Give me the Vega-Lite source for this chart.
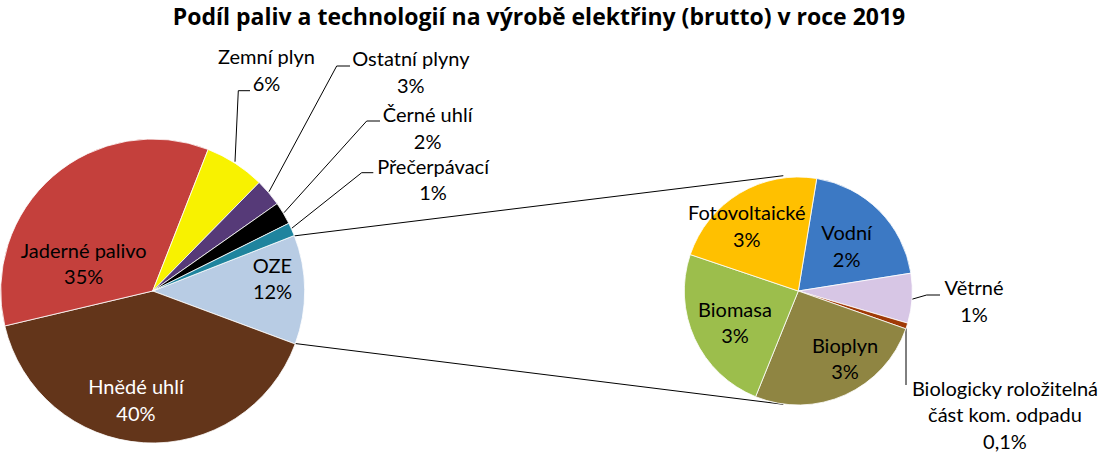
{
  "$schema": "https://vega.github.io/schema/vega-lite/v6.json",
  "width": 1100,
  "height": 452,
  "autosize": {"type": "none"},
  "padding": 0,
  "background": "white",
  "title": {"text": "Podíl paliv a technologií na výrobě elektřiny (brutto) v roce 2019", "font": "Open Sans", "fontSize": 23, "fontWeight": "bold", "color": "black", "anchor": "middle", "frame": "group", "offset": -30, "dx": -11},
  "config": {"view": {"stroke": null}, "font": "Lato"},
  "datasets": {
    "hlavni": [
      {"kategorie": "OZE", "podil": 11.6, "poradi": 1, "popisek": "OZE\n12%", "pie": "hlavni"},
      {"kategorie": "Hnědé uhlí", "podil": 40.6, "poradi": 2, "popisek": "Hnědé uhlí\n40%", "pie": "hlavni"},
      {"kategorie": "Jaderné palivo", "podil": 34.6, "poradi": 3, "popisek": "Jaderné palivo\n35%", "pie": "hlavni"},
      {"kategorie": "Zemní plyn", "podil": 6.4, "poradi": 4, "popisek": "Zemní plyn\n6%", "pie": "hlavni"},
      {"kategorie": "Ostatní plyny", "podil": 2.9, "poradi": 5, "popisek": "Ostatní plyny\n3%", "pie": "hlavni"},
      {"kategorie": "Černé uhlí", "podil": 2.4, "poradi": 6, "popisek": "Černé uhlí\n2%", "pie": "hlavni"},
      {"kategorie": "Přečerpávací", "podil": 1.4, "poradi": 7, "popisek": "Přečerpávací\n1%", "pie": "hlavni"}
    ],
    "oze": [
      {"kategorie": "Vodní", "podil": 2.4, "poradi": 1, "popisek": "Vodní\n2%", "pie": "oze"},
      {"kategorie": "Větrné", "podil": 0.85, "poradi": 2, "popisek": "Větrné\n1%", "pie": "oze"},
      {"kategorie": "Biologicky roložitelná část kom. odpadu", "podil": 0.1, "poradi": 3, "popisek": "Biologicky roložitelná\nčást kom. odpadu\n0,1%", "pie": "oze"},
      {"kategorie": "Bioplyn", "podil": 3.1, "poradi": 4, "popisek": "Bioplyn\n3%", "pie": "oze"},
      {"kategorie": "Biomasa", "podil": 2.9, "poradi": 5, "popisek": "Biomasa\n3%", "pie": "oze"},
      {"kategorie": "Fotovoltaické", "podil": 2.7, "poradi": 6, "popisek": "Fotovoltaické\n3%", "pie": "oze"}
    ],
    "spojnice": [
      {"x": 293.3, "y": 236, "x2": 783.3, "y2": 175.7},
      {"x": 293.3, "y": 343.3, "x2": 783.3, "y2": 404.3},
      {"x": 235, "y": 161.7, "x2": 238.3, "y2": 90.7},
      {"x": 238.3, "y": 90.7, "x2": 250, "y2": 90.7},
      {"x": 269, "y": 191.7, "x2": 336.7, "y2": 66},
      {"x": 336.7, "y": 66, "x2": 350, "y2": 66},
      {"x": 284, "y": 212.7, "x2": 366.7, "y2": 121},
      {"x": 366.7, "y": 121, "x2": 380, "y2": 121},
      {"x": 291.7, "y": 228.3, "x2": 361.7, "y2": 172.7},
      {"x": 361.7, "y": 172.7, "x2": 373.3, "y2": 172.7},
      {"x": 911.7, "y": 299.3, "x2": 926.7, "y2": 295},
      {"x": 926.7, "y": 295, "x2": 940, "y2": 295},
      {"x": 906, "y": 328.3, "x2": 906, "y2": 385}
    ]
  },
  "layer": [
    {
      "data": {"name": "spojnice"},
      "mark": {"type": "rule", "color": "black", "strokeWidth": 1},
      "encoding": {
        "x": {"field": "x", "type": "quantitative", "scale": {"domain": [0, 1100], "nice": false, "zero": false}, "axis": null},
        "y": {"field": "y", "type": "quantitative", "scale": {"domain": [0, 452], "nice": false, "zero": false, "reverse": true}, "axis": null},
        "x2": {"field": "x2"},
        "y2": {"field": "y2"}
      }
    },
    {
      "data": {"name": "hlavni"},
      "encoding": {
        "theta": {"field": "podil", "type": "quantitative", "stack": true, "scale": {"range": [1.1973, 7.4805]}},
        "order": {"field": "poradi", "type": "quantitative"},
        "x": {"field": "pie", "type": "nominal", "scale": {"domain": ["hlavni"], "range": [152.7, 152.7]}, "axis": null},
        "y": {"field": "pie", "type": "nominal", "scale": {"domain": ["hlavni"], "range": [291, 291]}, "axis": null}
      },
      "layer": [
        {
          "mark": {"type": "arc", "outerRadius": 152, "stroke": "white", "strokeWidth": 0.8},
          "encoding": {
            "color": {"field": "kategorie", "type": "nominal", "legend": null, "scale": {
              "domain": ["OZE", "Hnědé uhlí", "Jaderné palivo", "Zemní plyn", "Ostatní plyny", "Černé uhlí", "Přečerpávací"],
              "range": ["#B8CCE4", "#63351A", "#C4403C", "#F8F200", "#563A78", "#000000", "#1F849E"]}}
          }
        },
        {
          "transform": [{"filter": "datum.kategorie === 'Jaderné palivo'"}],
          "mark": {"type": "text", "radius": 73.7, "thetaOffset": 2.7866, "dy": -13.25, "lineBreak": "\n", "fontSize": 20, "lineHeight": 26.5, "align": "center", "baseline": "middle", "color": "black"},
          "encoding": {"text": {"field": "popisek"}}
        },
        {
          "transform": [{"filter": "datum.kategorie === 'Hnědé uhlí'"}],
          "mark": {"type": "text", "radius": 112, "thetaOffset": 0.8177, "dy": -13.25, "lineBreak": "\n", "fontSize": 20, "lineHeight": 26.5, "align": "center", "baseline": "middle", "color": "white"},
          "encoding": {"text": {"field": "popisek"}}
        },
        {
          "transform": [{"filter": "datum.kategorie === 'OZE'"}],
          "mark": {"type": "text", "radius": 120.3, "thetaOffset": -0.082, "dy": -13.25, "lineBreak": "\n", "fontSize": 20, "lineHeight": 26.5, "align": "center", "baseline": "middle", "color": "black"},
          "encoding": {"text": {"field": "popisek"}}
        },
        {
          "transform": [{"filter": "datum.kategorie === 'Zemní plyn'"}],
          "mark": {"type": "text", "radius": 247.2, "thetaOffset": -0.9203, "dy": -13.25, "lineBreak": "\n", "fontSize": 20, "lineHeight": 26.5, "align": "center", "baseline": "middle", "color": "black"},
          "encoding": {"text": {"field": "popisek"}}
        },
        {
          "transform": [{"filter": "datum.kategorie === 'Ostatní plyny'"}],
          "mark": {"type": "text", "radius": 337.5, "thetaOffset": -0.4177, "dy": -13.25, "lineBreak": "\n", "fontSize": 20, "lineHeight": 26.5, "align": "center", "baseline": "middle", "color": "black"},
          "encoding": {"text": {"field": "popisek"}}
        },
        {
          "transform": [{"filter": "datum.kategorie === 'Černé uhlí'"}],
          "mark": {"type": "text", "radius": 318.7, "thetaOffset": -0.2325, "dy": -13.25, "lineBreak": "\n", "fontSize": 20, "lineHeight": 26.5, "align": "center", "baseline": "middle", "color": "black"},
          "encoding": {"text": {"field": "popisek"}}
        },
        {
          "transform": [{"filter": "datum.kategorie === 'Přečerpávací'"}],
          "mark": {"type": "text", "radius": 301.1, "thetaOffset": -0.044, "dy": -13.25, "lineBreak": "\n", "fontSize": 20, "lineHeight": 26.5, "align": "center", "baseline": "middle", "color": "black"},
          "encoding": {"text": {"field": "popisek"}}
        }
      ]
    },
    {
      "data": {"name": "oze"},
      "encoding": {
        "theta": {"field": "podil", "type": "quantitative", "stack": true, "scale": {"range": [0.1623, 6.4455]}},
        "order": {"field": "poradi", "type": "quantitative"},
        "x": {"field": "pie", "type": "nominal", "scale": {"domain": ["oze"], "range": [798.3, 798.3]}, "axis": null},
        "y": {"field": "pie", "type": "nominal", "scale": {"domain": ["oze"], "range": [291, 291]}, "axis": null}
      },
      "layer": [
        {
          "mark": {"type": "arc", "outerRadius": 114, "stroke": "white", "strokeWidth": 0.8},
          "encoding": {
            "color": {"field": "kategorie", "type": "nominal", "legend": null, "scale": {
              "domain": ["Vodní", "Větrné", "Biologicky roložitelná část kom. odpadu", "Bioplyn", "Biomasa", "Fotovoltaické"],
              "range": ["#3C79C4", "#D7C6E5", "#A03A07", "#8F8542", "#9CBE4C", "#FFC000"]}}
          }
        },
        {
          "transform": [{"filter": "datum.kategorie === 'Vodní'"}],
          "mark": {"type": "text", "radius": 65, "thetaOffset": 0.0497, "dy": -13.25, "lineBreak": "\n", "fontSize": 20, "lineHeight": 26.5, "align": "center", "baseline": "middle", "color": "black"},
          "encoding": {"text": {"field": "popisek"}}
        },
        {
          "transform": [{"filter": "datum.kategorie === 'Větrné'"}],
          "mark": {"type": "text", "radius": 176.1, "thetaOffset": 1.2514, "dy": -13.25, "lineBreak": "\n", "fontSize": 20, "lineHeight": 26.5, "align": "center", "baseline": "middle", "color": "black"},
          "encoding": {"text": {"field": "popisek"}}
        },
        {
          "transform": [{"filter": "datum.kategorie === 'Biologicky roložitelná část kom. odpadu'"}],
          "mark": {"type": "text", "radius": 241.6, "thetaOffset": 1.927, "dy": -26.5, "lineBreak": "\n", "fontSize": 20, "lineHeight": 26.5, "align": "center", "baseline": "middle", "color": "black"},
          "encoding": {"text": {"field": "popisek"}}
        },
        {
          "transform": [{"filter": "datum.kategorie === 'Bioplyn'"}],
          "mark": {"type": "text", "radius": 83.3, "thetaOffset": 1.5759, "dy": -13.25, "lineBreak": "\n", "fontSize": 20, "lineHeight": 26.5, "align": "center", "baseline": "middle", "color": "black"},
          "encoding": {"text": {"field": "popisek"}}
        },
        {
          "transform": [{"filter": "datum.kategorie === 'Biomasa'"}],
          "mark": {"type": "text", "radius": 71.4, "thetaOffset": 3.314, "dy": -13.25, "lineBreak": "\n", "fontSize": 20, "lineHeight": 26.5, "align": "center", "baseline": "middle", "color": "black"},
          "encoding": {"text": {"field": "popisek"}}
        },
        {
          "transform": [{"filter": "datum.kategorie === 'Fotovoltaické'"}],
          "mark": {"type": "text", "radius": 81.8, "thetaOffset": 4.7346, "dy": -13.25, "lineBreak": "\n", "fontSize": 20, "lineHeight": 26.5, "align": "center", "baseline": "middle", "color": "black"},
          "encoding": {"text": {"field": "popisek"}}
        }
      ]
    }
  ],
  "resolve": {"scale": {"x": "independent", "y": "independent", "theta": "independent", "color": "independent"}}
}
